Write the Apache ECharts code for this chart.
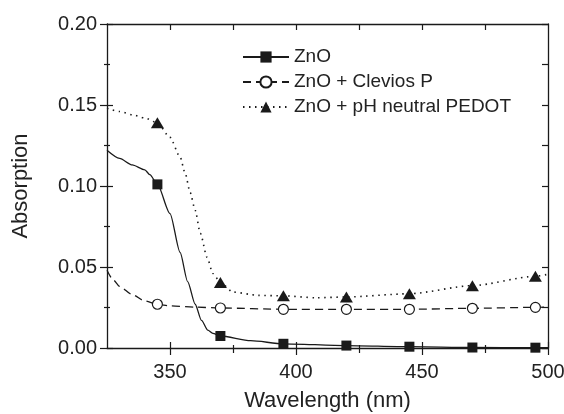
<!DOCTYPE html>
<html>
<head>
<meta charset="utf-8">
<script src="https://cdn.jsdelivr.net/npm/echarts@6/dist/echarts.min.js"></script>
<style>
html,body{margin:0;padding:0;background:#fff;}
#chart{width:564px;height:414px;}
</style>
</head>
<body>
<div id="chart"></div>
<script>
// ---- data ----
const seriesNames = ['ZnO', 'ZnO + Clevios P', 'ZnO + pH neutral PEDOT'];
const markerWavelengths = [345, 370, 395, 420, 445, 470, 495];

const znoWavelength = [325, 330, 335, 340, 342, 345, 350, 354, 357, 360, 362.5, 365, 367, 370, 382, 395, 420, 445, 470, 495, 500];
const znoValues     = [0.122, 0.117, 0.113, 0.110, 0.107, 0.101, 0.083, 0.059, 0.041, 0.027, 0.017, 0.011, 0.009, 0.0074, 0.0045, 0.0026, 0.0015, 0.0008, 0.0003, 0.0002, 0.0002];

const clevWavelength = [325, 327.5, 330, 335, 340, 345, 350, 360, 370, 395, 420, 445, 470, 495, 500];
const clevValues     = [0.048, 0.042, 0.038, 0.033, 0.029, 0.027, 0.026, 0.0252, 0.0247, 0.0239, 0.0239, 0.0239, 0.0245, 0.0251, 0.0253];

const pedotWavelength = [325, 330, 335, 340, 345, 350, 354, 356, 358, 360, 362, 364.7, 367, 370, 375, 385, 395, 408, 420, 445, 470, 495, 500];
const pedotValues     = [0.148, 0.146, 0.144, 0.142, 0.139, 0.130, 0.118, 0.108, 0.096, 0.085, 0.071, 0.056, 0.046, 0.0405, 0.0345, 0.0325, 0.0322, 0.031, 0.0315, 0.0335, 0.0385, 0.0443, 0.0455];

const xMajorTicks = [350, 400, 450, 500];
const xMinorTicks = [375, 425, 475];
const xTopTicks = [350, 375, 400, 425, 450, 475];

// ---- chart ----
const FONT = 'Liberation Sans, Arial, Helvetica, sans-serif';
const INK = '#1a1a1a';
const TXT = '#222';

function buildData(xs, ys) {
  return xs.map((x, i) => {
    const item = { value: [x, ys[i]] };
    if (markerWavelengths.indexOf(x) < 0) item.symbol = 'none';
    return item;
  });
}

const chart = echarts.init(document.getElementById('chart'), null, { renderer: 'canvas' });

const hiddenX = (extra) => Object.assign({
  type: 'value', min: 325, max: 500, gridIndex: 0,
  axisLabel: { show: false }, splitLine: { show: false },
  axisLine: { show: false }
}, extra);

const option = {
  animation: false,
  backgroundColor: '#fff',
  textStyle: { fontFamily: FONT },
  grid: { left: 107, right: 16, top: 24, bottom: 66, containLabel: false, outerBoundsMode: 'none' },
  legend: {
    data: seriesNames,
    orient: 'vertical',
    left: 242,
    top: 47,
    padding: 0,
    itemWidth: 46,
    itemHeight: 14,
    itemGap: 5,
    textStyle: { fontSize: 19, color: TXT, fontFamily: FONT, lineHeight: 20 },
    selectedMode: false
  },
  xAxis: [
    {
      type: 'value', min: 325, max: 500, position: 'bottom',
      axisLine: { show: true, lineStyle: { color: INK, width: 1.3 } },
      axisTick: { show: true, inside: false, length: 7, customValues: xMajorTicks, lineStyle: { color: INK, width: 1.2 } },
      axisLabel: { show: true, customValues: xMajorTicks, fontSize: 20, color: TXT, margin: 14, fontFamily: FONT },
      splitLine: { show: false },
      name: 'Wavelength (nm)', nameLocation: 'middle', nameGap: 42,
      nameTextStyle: { fontSize: 22, color: TXT, fontFamily: FONT }
    },
    hiddenX({ position: 'bottom', axisTick: { show: true, inside: true, length: 6, customValues: xMajorTicks, lineStyle: { color: INK, width: 1.2 } } }),
    hiddenX({ position: 'bottom', axisTick: { show: true, inside: false, length: 5, customValues: xMinorTicks, lineStyle: { color: INK, width: 1.2 } } }),
    hiddenX({ position: 'bottom', axisTick: { show: true, inside: true, length: 3, customValues: xMinorTicks, lineStyle: { color: INK, width: 1.2 } } }),
    hiddenX({ position: 'top', axisLine: { show: true, onZero: false, lineStyle: { color: INK, width: 1.3 } },
      axisTick: { show: true, inside: true, length: 6, customValues: xTopTicks, lineStyle: { color: INK, width: 1.2 } } })
  ],
  yAxis: [
    {
      type: 'value', min: 0, max: 0.2, interval: 0.05, position: 'left',
      axisLine: { show: true, onZero: false, lineStyle: { color: INK, width: 1.3 } },
      axisTick: { show: true, inside: false, length: 7, lineStyle: { color: INK, width: 1.2 } },
      minorTick: { show: true, splitNumber: 2, length: 3, lineStyle: { color: INK, width: 1.2 } },
      axisLabel: { fontSize: 20, color: TXT, margin: 10, fontFamily: FONT, formatter: v => v.toFixed(2) },
      splitLine: { show: false },
      name: 'Absorption', nameLocation: 'middle', nameGap: 75,
      nameTextStyle: { fontSize: 22, color: TXT, fontFamily: FONT }
    },
    {
      type: 'value', min: 0, max: 0.2, interval: 0.05, position: 'left',
      axisLine: { show: false },
      axisTick: { show: true, inside: true, length: 6, lineStyle: { color: INK, width: 1.2 } },
      minorTick: { show: true, splitNumber: 2, length: 3, lineStyle: { color: INK, width: 1.2 } },
      axisLabel: { show: false }, splitLine: { show: false }
    },
    {
      type: 'value', min: 0, max: 0.2, interval: 0.025, position: 'right',
      axisLine: { show: true, onZero: false, lineStyle: { color: INK, width: 1.3 } },
      axisTick: { show: true, inside: true, length: 6, lineStyle: { color: INK, width: 1.2 } },
      axisLabel: { show: false }, splitLine: { show: false }
    }
  ],
  series: [
    {
      name: seriesNames[0], type: 'line', xAxisIndex: 0, yAxisIndex: 0,
      data: buildData(znoWavelength, znoValues),
      smooth: 0.25, smoothMonotone: 'x',
      symbol: 'rect', symbolSize: 10,
      lineStyle: { color: INK, width: 1.3, type: 'solid' },
      itemStyle: { color: INK, borderColor: INK, borderWidth: 0 },
      z: 3
    },
    {
      name: seriesNames[1], type: 'line', xAxisIndex: 0, yAxisIndex: 0,
      data: buildData(clevWavelength, clevValues),
      smooth: 0.25, smoothMonotone: 'x',
      symbol: 'circle', symbolSize: 10,
      lineStyle: { color: INK, width: 1.3, type: [8, 5] },
      itemStyle: { color: '#fff', borderColor: INK, borderWidth: 1.2 },
      z: 3
    },
    {
      name: seriesNames[2], type: 'line', xAxisIndex: 0, yAxisIndex: 0,
      data: buildData(pedotWavelength, pedotValues),
      smooth: 0.25, smoothMonotone: 'x',
      symbol: 'triangle', symbolSize: [13, 11],
      lineStyle: { color: INK, width: 1.6, type: [1.5, 4.5] },
      itemStyle: { color: INK, borderColor: INK, borderWidth: 0 },
      z: 3
    }
  ]
};

chart.setOption(option);
</script>
</body>
</html>
